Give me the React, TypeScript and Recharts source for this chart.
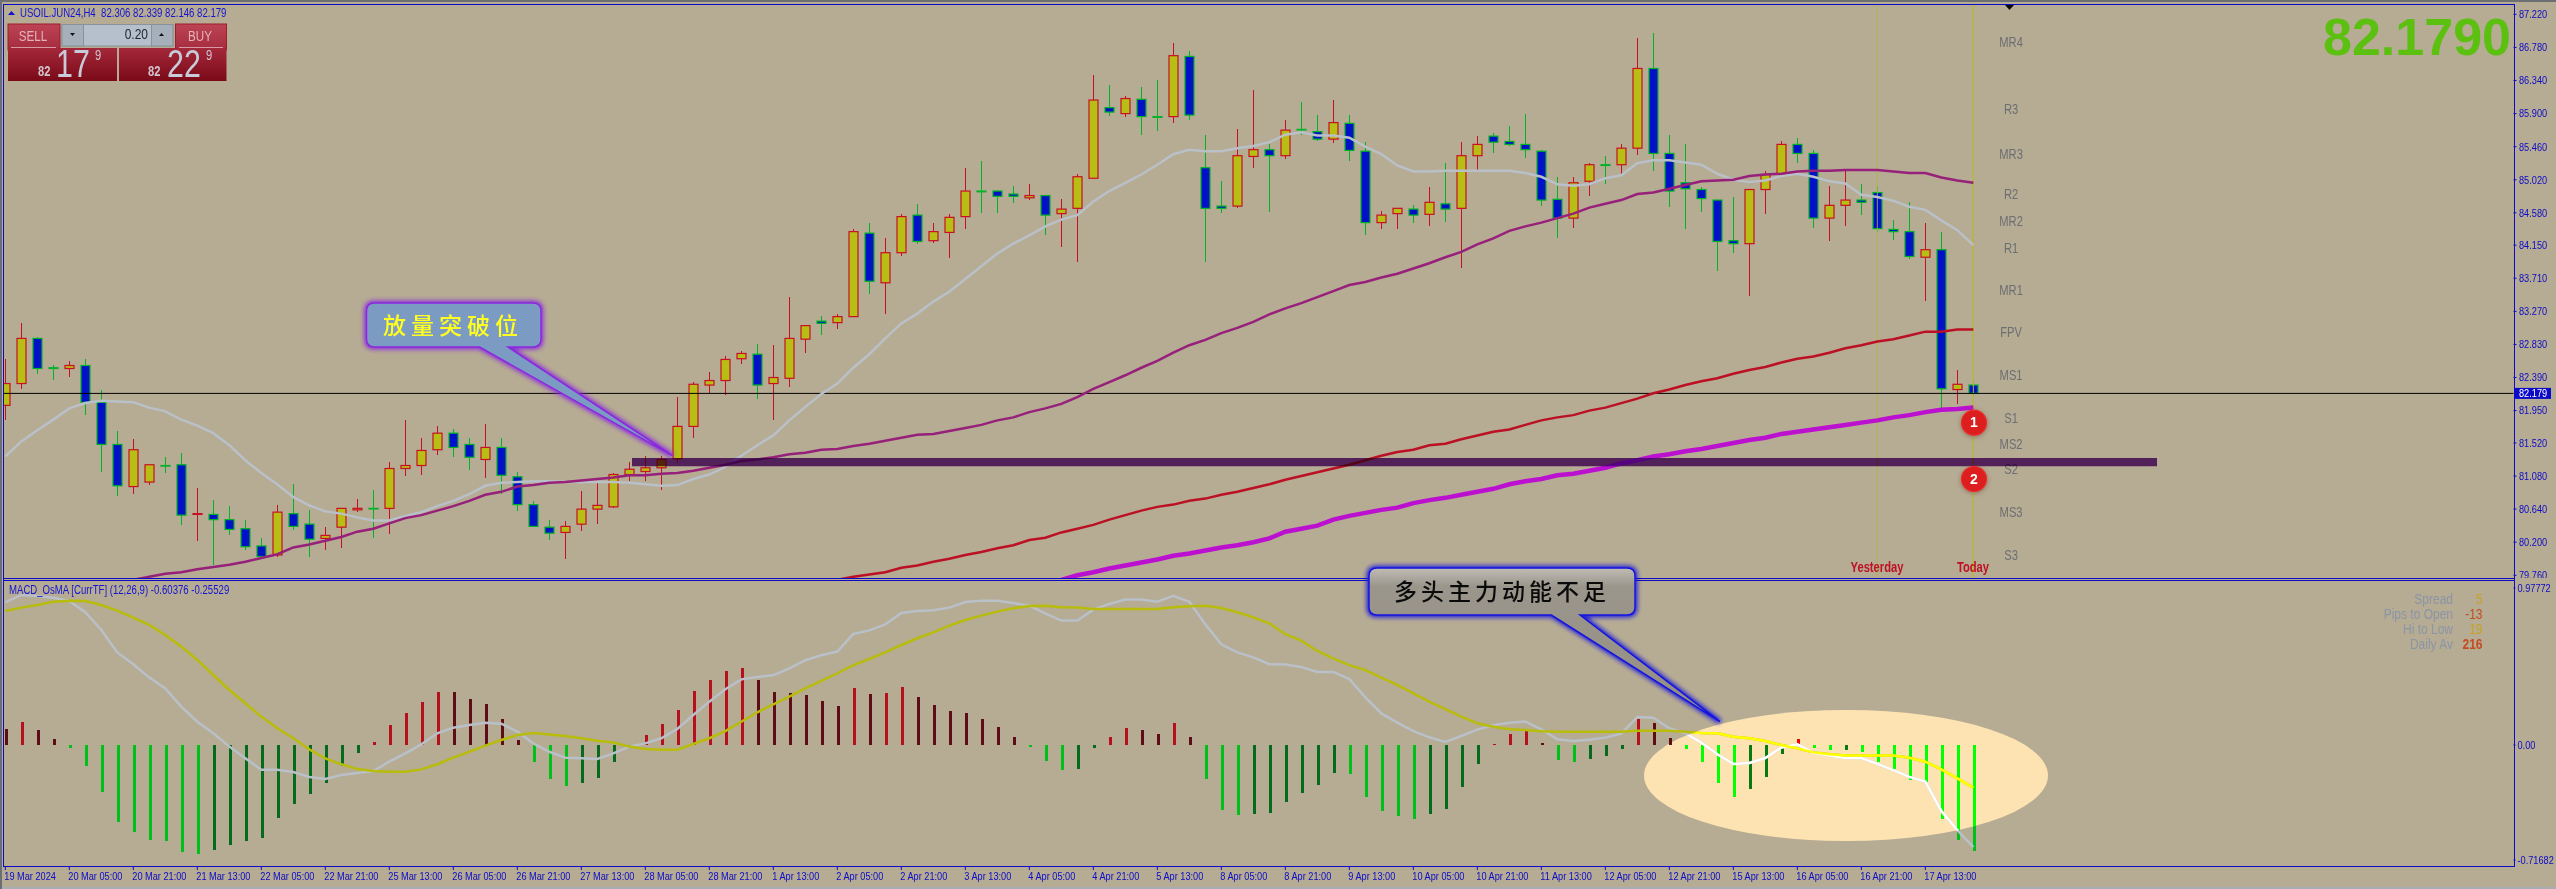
import { ComposedChart, Bar, Line, XAxis, YAxis, ReferenceLine, ReferenceArea, ReferenceDot } from "recharts";

// USOIL.JUN24 H4 screenshot: candles + four moving averages on top, MACD_OsMA below.

const highs = [
  82.64, 83.12, 82.93, 82.56, 82.61, 82.64, 82.23, 81.68, 81.57, 81.23, 81.33, 81.38, 80.92, 80.76, 80.68, 80.49, 80.25, 80.70, 80.97, 80.63,
  80.40, 80.66, 80.78, 80.90, 81.26, 81.83, 81.59, 81.74, 81.71, 81.58, 81.77, 81.58, 81.13, 80.75, 80.49, 80.48, 80.88, 80.99, 81.12, 81.27,
  81.35, 81.35, 82.13, 82.33, 82.46, 82.68, 82.74, 82.84, 82.82, 83.46, 83.08, 83.21, 83.23, 84.37, 84.44, 84.25, 84.56, 84.70, 84.44, 84.56,
  85.17, 85.27, 84.88, 84.94, 84.96, 84.81, 84.76, 85.10, 86.41, 86.28, 86.14, 86.26, 86.35, 86.84, 86.73, 85.62, 85.00, 85.69, 86.21, 85.50,
  85.81, 86.05, 85.88, 86.08, 85.88, 85.52, 84.60, 84.64, 84.68, 84.93, 85.24, 85.52, 85.60, 85.64, 85.74, 85.89, 85.42, 85.06, 85.06, 85.24,
  85.33, 85.50, 86.90, 86.97, 85.62, 85.50, 84.93, 84.75, 84.79, 84.89, 85.13, 85.53, 85.57, 85.41, 84.94, 85.16, 84.97, 84.94, 84.48, 84.72,
  84.44, 84.32, 82.49, 82.34,
];
const bodyTops = [
  82.31, 82.91, 82.91, 82.52, 82.55, 82.55, 82.06, 81.50, 81.43, 81.23, 81.22, 81.23, 80.58, 80.57, 80.50, 80.38, 80.15, 80.60, 80.58, 80.44,
  80.29, 80.65, 80.65, 80.65, 81.18, 81.22, 81.42, 81.65, 81.65, 81.50, 81.46, 81.46, 81.07, 80.70, 80.40, 80.41, 80.64, 80.69, 81.10, 81.17,
  81.19, 81.30, 81.74, 82.30, 82.35, 82.63, 82.71, 82.70, 82.39, 82.91, 83.08, 83.14, 83.20, 84.33, 84.31, 84.05, 84.53, 84.55, 84.33, 84.52,
  84.87, 84.87, 84.87, 84.83, 84.81, 84.81, 84.63, 85.06, 86.08, 85.98, 86.10, 86.09, 85.86, 86.67, 86.66, 85.18, 84.67, 85.34, 85.42, 85.42,
  85.68, 85.69, 85.66, 85.78, 85.77, 85.40, 84.55, 84.64, 84.63, 84.72, 84.70, 85.34, 85.49, 85.60, 85.53, 85.49, 85.40, 84.76, 84.98, 85.22,
  85.22, 85.44, 86.50, 86.50, 85.37, 84.98, 84.89, 84.75, 84.21, 84.89, 85.09, 85.49, 85.49, 85.37, 84.68, 84.75, 84.75, 84.85, 84.36, 84.33,
  84.09, 84.09, 82.30, 82.29,
];
const bodyBottoms = [
  82.02, 82.31, 82.51, 82.51, 82.51, 82.06, 81.50, 80.95, 80.94, 81.00, 81.22, 80.56, 80.57, 80.50, 80.37, 80.14, 80.01, 80.03, 80.41, 80.24,
  80.25, 80.40, 80.63, 80.65, 80.65, 81.18, 81.22, 81.43, 81.46, 81.33, 81.30, 81.09, 80.70, 80.41, 80.32, 80.33, 80.44, 80.64, 80.67, 81.10,
  81.14, 81.19, 81.31, 81.74, 82.29, 82.35, 82.64, 82.29, 82.31, 82.38, 82.90, 83.11, 83.12, 83.20, 83.67, 83.65, 84.05, 84.20, 84.21, 84.32,
  84.53, 84.86, 84.80, 84.80, 84.78, 84.55, 84.57, 84.64, 85.04, 85.92, 85.90, 85.86, 85.85, 85.86, 85.88, 84.64, 84.64, 84.67, 85.33, 85.34,
  85.34, 85.69, 85.56, 85.56, 85.41, 84.45, 84.45, 84.57, 84.55, 84.56, 84.63, 84.64, 85.34, 85.52, 85.49, 85.42, 84.75, 84.51, 84.51, 85.00,
  85.21, 85.22, 85.44, 85.37, 84.87, 84.90, 84.77, 84.20, 84.17, 84.17, 84.89, 85.10, 85.37, 84.51, 84.51, 84.68, 84.72, 84.37, 84.33, 84.00,
  83.99, 82.24, 82.23, 82.18,
];
const lows = [
  81.82, 82.24, 82.44, 82.36, 82.40, 81.89, 81.14, 80.82, 80.84, 80.96, 81.12, 80.43, 80.22, 79.90, 80.30, 80.09, 79.98, 80.00, 80.36, 80.00,
  80.10, 80.12, 80.60, 80.25, 80.31, 81.08, 81.09, 81.36, 81.33, 81.16, 81.05, 80.84, 80.62, 80.40, 80.23, 79.98, 80.35, 80.44, 80.65, 81.01,
  81.01, 80.89, 81.25, 81.58, 82.18, 82.16, 82.57, 82.11, 81.82, 82.26, 82.72, 82.96, 83.04, 83.20, 83.50, 83.24, 84.00, 84.17, 84.18, 83.98,
  84.37, 84.58, 84.58, 84.71, 84.75, 84.28, 84.13, 83.93, 85.04, 85.87, 85.86, 85.61, 85.67, 85.77, 85.81, 83.93, 84.58, 84.64, 85.18, 84.59,
  85.29, 85.62, 85.54, 85.51, 85.27, 84.29, 84.37, 84.37, 84.45, 84.40, 84.46, 83.85, 85.13, 85.38, 85.47, 85.31, 84.67, 84.25, 84.38, 84.81,
  84.97, 85.07, 85.35, 85.14, 84.66, 84.36, 84.59, 83.81, 84.04, 83.48, 84.57, 85.07, 85.24, 84.38, 84.20, 84.41, 84.55, 84.32, 84.22, 83.96,
  83.41, 81.98, 82.04, 82.14,
];
// U = bull candle (yellow), D = bear candle (blue)
const directions = (
  "UUDDUDDDUUDDUDDDDUDD" + "UUUDUUUUDDUDDDDUUUUU" + "UUUUUUUDUUUDUUDUUDUU" +
  "UDDDUDUUUDUDDUDDDUUD" + "UDDUDDUUDUDUUDDDDDUU" + "DUUDDDDDDUUUDDUUDDDD" + "UDUD"
).split("");

const fastMa = [
  81.34, 81.54, 81.69, 81.83, 81.98, 82.05, 82.08, 82.07, 82.06, 81.99, 81.94, 81.83, 81.75, 81.65, 81.49, 81.29, 81.12, 80.97, 80.80, 80.69,
  80.61, 80.58, 80.53, 80.49, 80.49, 80.55, 80.60, 80.68, 80.75, 80.84, 80.95, 80.99, 81.00, 81.01, 81.01, 81.00, 81.00, 81.00, 81.00, 80.99,
  80.97, 80.95, 80.96, 81.04, 81.10, 81.20, 81.35, 81.49, 81.62, 81.82, 82.00, 82.17, 82.31, 82.52, 82.70, 82.91, 83.11, 83.24, 83.40, 83.53,
  83.70, 83.87, 84.04, 84.17, 84.28, 84.40, 84.49, 84.55, 84.73, 84.87, 84.98, 85.09, 85.22, 85.36, 85.42, 85.40, 85.40, 85.44, 85.47, 85.52,
  85.62, 85.65, 85.61, 85.61, 85.58, 85.46, 85.36, 85.21, 85.13, 85.13, 85.14, 85.14, 85.14, 85.14, 85.14, 85.11, 85.06, 84.96, 84.94, 84.96,
  85.04, 85.08, 85.24, 85.28, 85.28, 85.25, 85.22, 85.10, 85.02, 84.99, 85.01, 85.07, 85.10, 85.06, 85.00, 84.97, 84.82, 84.79, 84.74, 84.66,
  84.62, 84.48, 84.35, 84.15,
];
const blank = (n: number) => new Array(n).fill(null);
const midMa = [
  ...blank(8), 79.70, 79.74, 79.78, 79.80, 79.84, 79.87, 79.90, 79.94, 79.99, 80.04, 80.13, 80.17,
  80.22, 80.27, 80.34, 80.38, 80.45, 80.52, 80.56, 80.62, 80.68, 80.75, 80.83, 80.87, 80.94, 80.96, 80.99, 81.00, 81.02, 81.04, 81.06, 81.09,
  81.09, 81.11, 81.12, 81.15, 81.19, 81.23, 81.28, 81.30, 81.33, 81.37, 81.39, 81.43, 81.44, 81.48, 81.51, 81.55, 81.59, 81.63, 81.64, 81.68,
  81.72, 81.76, 81.82, 81.86, 81.93, 81.98, 82.04, 82.13, 82.24, 82.33, 82.42, 82.52, 82.61, 82.72, 82.82, 82.89, 82.98, 83.05, 83.13, 83.23,
  83.31, 83.38, 83.46, 83.54, 83.62, 83.66, 83.72, 83.77, 83.84, 83.91, 83.99, 84.06, 84.16, 84.24, 84.34, 84.40, 84.45, 84.51, 84.57, 84.65,
  84.70, 84.75, 84.83, 84.85, 84.90, 84.95, 85.00, 85.01, 85.02, 85.07, 85.09, 85.10, 85.13, 85.14, 85.14, 85.15, 85.15, 85.15, 85.13, 85.11,
  85.11, 85.05, 85.01, 84.98,
];
const slowMa = [
  ...blank(52), 79.70, 79.74, 79.77, 79.80, 79.86, 79.89, 79.94, 79.98,
  80.03, 80.07, 80.12, 80.16, 80.23, 80.26, 80.33, 80.38, 80.43, 80.50, 80.56, 80.62, 80.67, 80.70, 80.75, 80.78, 80.83, 80.87, 80.92, 80.97,
  81.03, 81.08, 81.13, 81.18, 81.23, 81.29, 81.35, 81.40, 81.43, 81.49, 81.51, 81.57, 81.62, 81.67, 81.70, 81.76, 81.82, 81.86, 81.89, 81.95,
  81.99, 82.05, 82.11, 82.18, 82.23, 82.29, 82.34, 82.38, 82.44, 82.49, 82.53, 82.59, 82.64, 82.67, 82.72, 82.78, 82.82, 82.87, 82.90, 82.95,
  83.00, 83.00, 83.03, 83.03,
];
const longMa = [
  ...blank(66), 79.70, 79.76, 79.80, 79.85, 79.89, 79.93, 79.97, 80.02, 80.05, 80.09, 80.13, 80.16, 80.20, 80.25,
  80.34, 80.38, 80.42, 80.50, 80.55, 80.59, 80.63, 80.66, 80.72, 80.76, 80.79, 80.83, 80.87, 80.91, 80.97, 81.01, 81.04, 81.09, 81.11, 81.15,
  81.19, 81.25, 81.29, 81.34, 81.37, 81.41, 81.44, 81.48, 81.52, 81.56, 81.59, 81.64, 81.67, 81.70, 81.73, 81.76, 81.79, 81.82, 81.86, 81.89,
  81.93, 81.96, 81.97, 81.99,
];

const osma = [
  0.100, 0.143, 0.093, 0.037, -0.017, -0.131, -0.293, -0.480, -0.542, -0.592, -0.598, -0.667, -0.679, -0.654, -0.623, -0.598, -0.579, -0.455, -0.368, -0.305,
  -0.237, -0.131, -0.050, 0.019, 0.125, 0.199, 0.268, 0.330, 0.330, 0.287, 0.255, 0.162, 0.031, -0.106, -0.212, -0.255, -0.237, -0.206, -0.106, -0.012,
  0.062, 0.131, 0.218, 0.336, 0.405, 0.461, 0.480, 0.405, 0.330, 0.324, 0.312, 0.274, 0.243, 0.355, 0.318, 0.324, 0.361, 0.299, 0.249, 0.212,
  0.199, 0.162, 0.112, 0.050, -0.012, -0.100, -0.156, -0.150, -0.019, 0.050, 0.106, 0.093, 0.069, 0.137, 0.050, -0.212, -0.405, -0.436, -0.430, -0.424,
  -0.355, -0.299, -0.249, -0.174, -0.181, -0.324, -0.411, -0.442, -0.461, -0.430, -0.399, -0.262, -0.118, 0.004, 0.069, 0.093, 0.012, -0.093, -0.106, -0.087,
  -0.069, -0.025, 0.162, 0.137, 0.044, -0.025, -0.106, -0.237, -0.324, -0.274, -0.199, -0.056, 0.037, -0.019, -0.031, -0.031, -0.044, -0.106, -0.150, -0.218,
  -0.231, -0.461, -0.592, -0.660,
];
// R/r = bright/dark red, G/g = bright/dark green
const osmaShades = (
  "rRrrGGGGGGGGGggggggg" + "gggRRRRRrrrrrGGGgggg" + "RRRRRRRrrrrrrRrRRrrr" +
  "rrrrGGGggRRrrRrGGGgg" + "ggggGGGGGggggRRRrGGg" + "ggRrrGGGGgggRGGgGGGG" + "GGGG"
).split("");
const macdLine = [
  0.889, 0.935, 0.928, 0.918, 0.897, 0.827, 0.717, 0.577, 0.503, 0.420, 0.353, 0.239, 0.145, 0.073, -0.010, -0.083, -0.154, -0.154, -0.168, -0.199,
  -0.212, -0.187, -0.174, -0.162, -0.104, -0.052, 0.004, 0.073, 0.108, 0.125, 0.139, 0.133, 0.083, 0.010, -0.042, -0.079, -0.083, -0.087, -0.052, -0.010,
  0.010, 0.042, 0.100, 0.187, 0.270, 0.347, 0.409, 0.424, 0.434, 0.478, 0.528, 0.559, 0.582, 0.692, 0.714, 0.752, 0.822, 0.835, 0.839, 0.856,
  0.891, 0.899, 0.899, 0.885, 0.868, 0.820, 0.775, 0.775, 0.843, 0.879, 0.906, 0.906, 0.893, 0.930, 0.893, 0.752, 0.627, 0.577, 0.546, 0.503,
  0.501, 0.486, 0.455, 0.455, 0.411, 0.297, 0.197, 0.139, 0.087, 0.048, 0.019, 0.056, 0.096, 0.123, 0.139, 0.147, 0.098, 0.035, 0.025, 0.033,
  0.046, 0.071, 0.174, 0.170, 0.104, 0.073, 0.015, -0.058, -0.118, -0.112, -0.081, -0.015, 0.004, -0.048, -0.066, -0.081, -0.081, -0.118, -0.156, -0.199,
  -0.228, -0.411, -0.530, -0.636,
];
const signalLine = [
  0.835, 0.856, 0.872, 0.893, 0.899, 0.897, 0.872, 0.837, 0.793, 0.748, 0.685, 0.613, 0.530, 0.436, 0.343, 0.260, 0.177, 0.104, 0.042, -0.027,
  -0.083, -0.120, -0.150, -0.162, -0.166, -0.166, -0.152, -0.120, -0.079, -0.042, -0.004, 0.031, 0.062, 0.075, 0.066, 0.056, 0.042, 0.027, 0.015, -0.010,
  -0.025, -0.029, -0.029, 0.006, 0.042, 0.087, 0.145, 0.204, 0.253, 0.301, 0.353, 0.399, 0.447, 0.498, 0.536, 0.577, 0.623, 0.665, 0.702, 0.744,
  0.779, 0.806, 0.831, 0.852, 0.866, 0.868, 0.858, 0.856, 0.847, 0.847, 0.847, 0.847, 0.847, 0.858, 0.864, 0.868, 0.854, 0.827, 0.795, 0.758,
  0.690, 0.650, 0.586, 0.540, 0.498, 0.467, 0.420, 0.374, 0.322, 0.270, 0.224, 0.177, 0.135, 0.114, 0.098, 0.093, 0.085, 0.083, 0.083, 0.083,
  0.083, 0.083, 0.089, 0.089, 0.089, 0.083, 0.075, 0.073, 0.052, 0.042, 0.025, 0, -0.021, -0.046, -0.058, -0.066, -0.066, -0.066, -0.066, -0.079,
  -0.104, -0.152, -0.208, -0.266,
];

const priceTicks = [87.22, 86.78, 86.34, 85.9, 85.46, 85.02, 84.58, 84.15, 83.71, 83.27, 82.83, 82.39, 82.179, 81.95, 81.52, 81.08, 80.64, 80.2, 79.76];
const macdTicks = [0.97772, 0, -0.71682];
const timeLabels = [
  "19 Mar 2024", "20 Mar 05:00", "20 Mar 21:00", "21 Mar 13:00", "22 Mar 05:00", "22 Mar 21:00", "25 Mar 13:00", "26 Mar 05:00",
  "26 Mar 21:00", "27 Mar 13:00", "28 Mar 05:00", "28 Mar 21:00", "1 Apr 13:00", "2 Apr 05:00", "2 Apr 21:00", "3 Apr 13:00",
  "4 Apr 05:00", "4 Apr 21:00", "5 Apr 13:00", "8 Apr 05:00", "8 Apr 21:00", "9 Apr 13:00", "10 Apr 05:00", "10 Apr 21:00",
  "11 Apr 13:00", "12 Apr 05:00", "12 Apr 21:00", "15 Apr 13:00", "16 Apr 05:00", "16 Apr 21:00", "17 Apr 13:00",
];
const pivotNames = ["MR4", "R3", "MR3", "R2", "MR2", "R1", "MR1", "FPV", "MS1", "S1", "MS2", "S2", "MS3", "S3"];
const pivotPrices = [86.84, 85.95, 85.36, 84.82, 84.46, 84.1, 83.54, 82.99, 82.41, 81.85, 81.5, 81.16, 80.59, 80.02];
const statNames = ["Spread", "Pips to Open", "Hi to Low", "Daily Av"];
const statValues = ["5", "-13", "19", "216"];

const rows = highs.map((h, k) => ({
  i: k,
  range: [lows[k], h],
  high: h,
  low: lows[k],
  top: bodyTops[k],
  bottom: bodyBottoms[k],
  up: directions[k] === "U",
  fastMa: fastMa[k],
  midMa: midMa[k],
  slowMa: slowMa[k],
  longMa: longMa[k],
  osma: osma[k],
  shade: osmaShades[k],
  macd: macdLine[k],
  signal: signalLine[k],
}));

const W = 2556;
const H = 889;
const PLOT_RIGHT = 2513.5;
const X_DOMAIN: [number, number] = [-0.081, 156.76];
const PRICE_DOMAIN: [number, number] = [79.724, 87.344];
const BG = "#b6ab93";
const AXIS_BLUE = "#0a0ac8";
const SANS = '"Liberation Sans", sans-serif';
const ELLIPSE = { cx: 1846, cy: 775.7, rx: 201.6, ry: 65.8 };
const MACD_TOP = 581;

const SHADES: Record<string, string> = { R: "#b80f1e", r: "#5e0c16", G: "#00c01c", g: "#066a1e" };
const BRIGHT: Record<string, string> = { R: "#ff0000", r: "#6e0c14", G: "#00ff00", g: "#067a10" };

// MT4 draws a condensed face, no narrow font is installed so squeeze Liberation Sans
function Squeezed({ x, y, size, fill, anchor = "start", weight = 400, children }: any) {
  return (
    <text
      transform={`translate(${x} ${y}) scale(0.8 1)`}
      dominantBaseline="central"
      textAnchor={anchor}
      fontFamily={SANS}
      fontSize={size}
      fontWeight={weight}
      fill={fill}
      xmlSpace="preserve"
    >
      {children}
    </text>
  );
}

function Candle(props: any) {
  const { x, y, width, height, payload } = props;
  const cx = Math.round(x + width / 2) + 0.5;
  const span = payload.high - payload.low || 1;
  const toY = (v: number) => y + ((payload.high - v) / span) * height;
  const edge = payload.up ? "#c80f23" : "#00b428";
  const bodyY = toY(payload.top);
  return (
    <g>
      <line x1={cx} x2={cx} y1={y} y2={y + height} stroke={edge} strokeWidth={1} shapeRendering="crispEdges" />
      <rect
        x={cx - 4.5}
        width={9}
        y={bodyY}
        height={Math.max(toY(payload.bottom) - bodyY, 0.6)}
        fill={payload.up ? "#b8bf14" : "#0010c8"}
        stroke={edge}
        strokeWidth={1.2}
      />
    </g>
  );
}

function OsmaBar(props: any) {
  const { x, y, width, height, payload } = props;
  const left = Math.round(x + width / 2) - 1;
  const top = height < 0 ? y + height : y;
  const h = Math.abs(height);
  return (
    <g shapeRendering="crispEdges">
      <rect x={left} y={top} width={3} height={h} fill={SHADES[payload.shade]} />
      <rect x={left} y={top} width={3} height={h} fill={BRIGHT[payload.shade]} clipPath="url(#macdEllipse)" />
    </g>
  );
}

function PriceTick(props: any) {
  const { y, payload } = props;
  const current = payload.value === 82.179;
  return (
    <g>
      {current ? (
        <rect x={2515} y={y - 5.5} width={36} height={11} fill={AXIS_BLUE} />
      ) : (
        <line x1={PLOT_RIGHT} x2={PLOT_RIGHT + 3} y1={y} y2={y} stroke={AXIS_BLUE} />
      )}
      <Squeezed x={2519} y={y} size={11.5} fill={current ? "#ffffff" : AXIS_BLUE}>
        {payload.value.toFixed(3)}
      </Squeezed>
    </g>
  );
}

function MacdTick(props: any) {
  const { y, payload } = props;
  return (
    <g>
      <line x1={PLOT_RIGHT} x2={PLOT_RIGHT + 2} y1={y} y2={y} stroke={AXIS_BLUE} />
      <Squeezed x={2517.5} y={y} size={11.5} fill={AXIS_BLUE}>
        {payload.value === 0 ? "0.00" : String(payload.value)}
      </Squeezed>
    </g>
  );
}

function TimeTick(props: any) {
  const { x, payload } = props;
  return (
    <g>
      <line x1={x} x2={x} y1={285} y2={289} stroke={AXIS_BLUE} />
      <Squeezed x={x - 1} y={294.7} size={11.5} fill={AXIS_BLUE}>
        {timeLabels[payload.value / 4]}
      </Squeezed>
    </g>
  );
}

function PriceChart() {
  return (
    <div style={{ position: "absolute", left: 0, top: 0 }}>
      <ComposedChart width={W} height={578} data={rows} margin={{ top: 5, right: 0, bottom: 0, left: 4 }}>
        <XAxis dataKey="i" type="number" domain={X_DOMAIN} allowDataOverflow hide />
        <YAxis
          orientation="right"
          width={42.5}
          type="number"
          domain={PRICE_DOMAIN}
          allowDataOverflow
          ticks={priceTicks}
          interval={0}
          axisLine={false}
          tickLine={false}
          tick={<PriceTick />}
        />
        <ReferenceLine x={117} stroke="#b4b83a" strokeOpacity={0.8} strokeWidth={1} />
        <ReferenceLine x={123} stroke="#b8bc14" strokeWidth={1} />
        <ReferenceLine y={82.179} stroke="#000000" strokeWidth={1} />
        <Line dataKey="fastMa" stroke="#b9c0c8" strokeWidth={2.5} dot={false} isAnimationActive={false} />
        <Line dataKey="midMa" stroke="#96207a" strokeWidth={2.5} dot={false} isAnimationActive={false} />
        <Line dataKey="slowMa" stroke="#bc1024" strokeWidth={2.5} dot={false} isAnimationActive={false} />
        <Line dataKey="longMa" stroke="#bc10d0" strokeWidth={4.5} dot={false} isAnimationActive={false} />
        <Bar dataKey="range" barSize={10} shape={<Candle />} isAnimationActive={false} />
        {pivotNames.map((name, k) => (
          <ReferenceDot
            key={name}
            x={125.36}
            y={pivotPrices[k]}
            r={0}
            shape={(p: any) => (
              <Squeezed x={p.cx} y={p.cy} size={14} fill="#6c6f72" anchor="middle">
                {name}
              </Squeezed>
            )}
          />
        ))}
      </ComposedChart>
    </div>
  );
}

// support band in its own layer so it can multiply over candles and lines
function SupportBand() {
  return (
    <div style={{ position: "absolute", left: 0, top: 0, mixBlendMode: "multiply" }}>
      <ComposedChart width={W} height={578} data={rows} margin={{ top: 5, right: 42.5, bottom: 0, left: 4 }}>
        <XAxis dataKey="i" type="number" domain={X_DOMAIN} allowDataOverflow hide />
        <YAxis type="number" domain={PRICE_DOMAIN} allowDataOverflow hide />
        <ReferenceArea x1={39.17} x2={134.48} y1={81.21} y2={81.319} fill="#73309a" fillOpacity={1} stroke="none" />
      </ComposedChart>
    </div>
  );
}

function MacdChart() {
  return (
    <div style={{ position: "absolute", left: 0, top: MACD_TOP }}>
      <ComposedChart width={W} height={307} data={rows} margin={{ top: 0, right: 0, bottom: 0, left: 4 }}>
        <XAxis
          dataKey="i"
          type="number"
          domain={X_DOMAIN}
          allowDataOverflow
          ticks={timeLabels.map((_, k) => k * 4)}
          interval={0}
          height={22}
          axisLine={false}
          tickLine={false}
          tick={<TimeTick />}
        />
        <YAxis
          orientation="right"
          width={42.5}
          type="number"
          domain={[-0.7539, 1.0218]}
          allowDataOverflow
          ticks={macdTicks}
          interval={0}
          axisLine={false}
          tickLine={false}
          tick={<MacdTick />}
        />
        <Bar dataKey="osma" barSize={3} shape={<OsmaBar />} isAnimationActive={false} />
        <Line dataKey="macd" stroke="#b9c0c8" strokeWidth={2.5} dot={false} isAnimationActive={false} />
        <Line dataKey="signal" stroke="#b8bc0a" strokeWidth={2.5} dot={false} isAnimationActive={false} />
        <Line dataKey="macd" stroke="#ffffff" strokeWidth={2.5} dot={false} isAnimationActive={false} style={{ clipPath: "url(#macdEllipse)" }} />
        <Line dataKey="signal" stroke="#ffff00" strokeWidth={2.5} dot={false} isAnimationActive={false} style={{ clipPath: "url(#macdEllipse)" }} />
      </ComposedChart>
    </div>
  );
}

function Frame() {
  const rule = (left: number, top: number, width: number, height: number, background = AXIS_BLUE) => (
    <div key={`${left}-${top}-${width}`} style={{ position: "absolute", left, top, width, height, background }} />
  );
  return (
    <>
      {rule(0, 0, W, 2, "#6c6f72")}
      {rule(0, 887, W, 2, "#a7adb3")}
      {rule(0, 0, 2, H, "#6c6f72")}
      {rule(3, 4, 1, 862)}
      {rule(3, 4, PLOT_RIGHT - 3, 1)}
      {rule(3, 578, PLOT_RIGHT - 3, 1)}
      {rule(3, 580, PLOT_RIGHT - 3, 1)}
      {rule(3, 866, PLOT_RIGHT - 3, 1)}
      {rule(PLOT_RIGHT, 4, 1, 863)}
    </>
  );
}

function Callout({ d, stroke, fill }: { d: string; stroke: string; fill: string }) {
  return (
    <g>
      <path d={d} fill={stroke} stroke={stroke} strokeWidth={5} filter="url(#soft)" opacity={0.9} />
      <path d={d} fill={fill} stroke={stroke} strokeWidth={1.5} />
    </g>
  );
}

function TradePanel() {
  return (
    <g>
      <rect x={8} y={24} width={52} height={26} fill="url(#btnTop)" stroke="#a01c2c" />
      <rect x={175.5} y={24} width={51} height={26} fill="url(#btnTop)" stroke="#a01c2c" />
      <rect x={8} y={48} width={109} height={33} fill="url(#btnLow)" />
      <rect x={119} y={48} width={107.5} height={33} fill="url(#btnLow)" />
      <rect x={11} y={47} width={45} height={1} fill="#d89aa2" />
      <rect x={179} y={47} width={44} height={1} fill="#d89aa2" />
      <rect x={62} y={24.5} width={111} height={21.5} fill="#b6c0cd" stroke="#87929c" />
      <rect x={62} y={24.5} width={21.5} height={21.5} fill="#a6b0ba" stroke="#87929c" />
      <rect x={151.5} y={24.5} width={21.5} height={21.5} fill="#a6b0ba" stroke="#87929c" />
      <path d="M70 33 L75 33 L72.5 36 Z" fill="#111" />
      <path d="M159 36 L164 36 L161.5 33 Z" fill="#111" />
      <Squeezed x={33} y={35.7} size={14.5} fill="#e2b4ba" anchor="middle">SELL</Squeezed>
      <Squeezed x={200} y={35.7} size={14.5} fill="#e2b4ba" anchor="middle">BUY</Squeezed>
      <Squeezed x={148} y={34.5} size={15} fill="#1c2530" anchor="end">0.20</Squeezed>
      <Squeezed x={38} y={71.5} size={14} fill="#d2c4cc" weight={700}>82</Squeezed>
      <Squeezed x={56} y={64} size={38} fill="#c8ccd8">17</Squeezed>
      <Squeezed x={95} y={55.5} size={14} fill="#cfc6cf">9</Squeezed>
      <Squeezed x={148} y={71.5} size={14} fill="#d2c4cc" weight={700}>82</Squeezed>
      <Squeezed x={167} y={64} size={38} fill="#c8ccd8">22</Squeezed>
      <Squeezed x={206} y={55.5} size={14} fill="#cfc6cf">9</Squeezed>
    </g>
  );
}

function Overlay() {
  const calloutA = "M374.5 303 H533 Q541 303 541 311 V339 Q541 347 533 347 H508 L672.6 455.7 L479.6 347 H374.5 Q366.5 347 366.5 339 V311 Q366.5 303 374.5 303 Z";
  const calloutB = "M1377 568 H1627 Q1635 568 1635 576 V607 Q1635 615 1627 615 H1580 L1720 721.7 L1551.4 615 H1377 Q1369 615 1369 607 V576 Q1369 568 1377 568 Z";
  return (
    <svg width={W} height={H} style={{ position: "absolute", left: 0, top: 0, pointerEvents: "none" }}>
      <defs>
        <clipPath id="macdEllipse" clipPathUnits="userSpaceOnUse">
          <ellipse cx={ELLIPSE.cx} cy={ELLIPSE.cy - MACD_TOP} rx={ELLIPSE.rx} ry={ELLIPSE.ry} />
        </clipPath>
        <linearGradient id="btnTop" x1="0" x2="0" y1="0" y2="1">
          <stop offset="0" stopColor="#bc4454" />
          <stop offset="1" stopColor="#a42c3e" />
        </linearGradient>
        <linearGradient id="btnLow" x1="0" x2="0" y1="0" y2="1">
          <stop offset="0" stopColor="#a4283a" />
          <stop offset="1" stopColor="#7a0a18" />
        </linearGradient>
        <linearGradient id="greyBox" x1="0" x2="0" y1="0" y2="1">
          <stop offset="0" stopColor="#c0bcb4" />
          <stop offset="0.12" stopColor="#9b968c" />
          <stop offset="1" stopColor="#948e84" />
        </linearGradient>
        <filter id="soft" x="-20%" y="-20%" width="140%" height="140%">
          <feGaussianBlur stdDeviation="2" />
        </filter>
      </defs>

      <path d="M8 15 L15 15 L11.5 11 Z" fill="#1010d0" />
      <Squeezed x={20} y={12.5} size={12} fill="#1414d2">
        {"USOIL.JUN24,H4  82.306 82.339 82.146 82.179"}
      </Squeezed>
      <TradePanel />
      <Squeezed x={9} y={589.7} size={12} fill="#1414d2">
        MACD_OsMA [CurrTF] (12,26,9) -0.60376 -0.25529
      </Squeezed>

      <text x={2511} y={37} textAnchor="end" dominantBaseline="central" fontFamily={SANS} fontWeight={700} fontSize={52} fill="#5cc010">
        82.1790
      </text>
      <path d="M2005 5 L2014 5 L2009.5 10 Z" fill="#0a0a0a" />
      <Squeezed x={1877} y={567.7} size={14} weight={700} fill="#c01024" anchor="middle">Yesterday</Squeezed>
      <Squeezed x={1973} y={567.7} size={14} weight={700} fill="#c01024" anchor="middle">Today</Squeezed>

      {statNames.map((name, k) => (
        <g key={name}>
          <Squeezed x={2453} y={598.7 + 15 * k} size={15} fill="#8a95a6" anchor="end">{name}</Squeezed>
          <Squeezed x={2482.5} y={598.7 + 15 * k} size={15} weight={k === 3 ? 700 : 400} fill={k % 2 === 0 ? "#c4a224" : "#c44c20"} anchor="end">
            {statValues[k]}
          </Squeezed>
        </g>
      ))}

      <Callout d={calloutA} stroke="#8a28e0" fill="#7c9bc2" />
      <text x={453} y={324} textAnchor="middle" dominantBaseline="central" fontFamily='"Noto Sans CJK SC", sans-serif' fontSize={23} fontWeight={500} letterSpacing={5} fill="#ffff20">
        放量突破位
      </text>
      <Callout d={calloutB} stroke="#1414e0" fill="url(#greyBox)" />
      <text x={1502} y={590} textAnchor="middle" dominantBaseline="central" fontFamily='"Noto Sans CJK SC", sans-serif' fontSize={23} fontWeight={500} letterSpacing={4} fill="#0a0a0a">
        多头主力动能不足
      </text>

      {[
        { y: 422.7, s: "1" },
        { y: 479, s: "2" },
      ].map((m) => (
        <g key={m.s}>
          <circle cx={1974} cy={m.y + 1} r={13.5} fill="#6a4a3a" opacity={0.5} filter="url(#soft)" />
          <circle cx={1974} cy={m.y} r={12.5} fill="#dc1e1e" stroke="#f02a2a" strokeWidth={1.2} />
          <text x={1974} y={m.y - 0.5} textAnchor="middle" dominantBaseline="central" fontFamily={SANS} fontSize={14} fontWeight={700} fill="#ffffff">
            {m.s}
          </text>
        </g>
      ))}
    </svg>
  );
}

export default function App() {
  return (
    <div style={{ position: "absolute", left: 0, top: 0, width: W, height: H, background: BG, overflow: "hidden" }}>
      <div
        style={{
          position: "absolute",
          left: ELLIPSE.cx - ELLIPSE.rx,
          top: ELLIPSE.cy - ELLIPSE.ry,
          width: ELLIPSE.rx * 2,
          height: ELLIPSE.ry * 2,
          borderRadius: "50%",
          background: "#fde3b2",
        }}
      />
      <PriceChart />
      <SupportBand />
      <MacdChart />
      <Frame />
      <Overlay />
    </div>
  );
}
